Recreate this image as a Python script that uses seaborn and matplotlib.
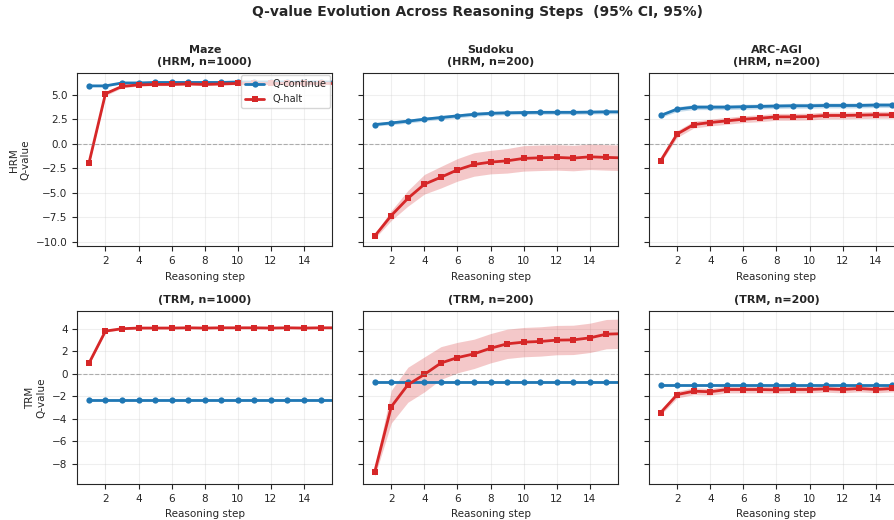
import numpy as np
import matplotlib
matplotlib.use("Agg")
import matplotlib.pyplot as plt
from matplotlib.ticker import MultipleLocator
import seaborn as sns

# reasoning steps
steps = np.arange(1, 17)

# HRM row: mean and CI half-width
maze_hrm_cont = [5.9, 5.9, 6.2, 6.2, 6.25, 6.25, 6.25, 6.25, 6.25, 6.3, 6.3, 6.3, 6.3, 6.3, 6.3, 6.3]
maze_hrm_cont_ci = [0.08] * 16
maze_hrm_halt = [-2.0, 5.1, 5.85, 6.0, 6.05, 6.05, 6.1, 6.05, 6.1, 6.15, 6.15, 6.15, 6.15, 6.15, 6.15, 6.15]
maze_hrm_halt_ci = [0.15, 0.2, 0.15, 0.12, 0.12, 0.12, 0.12, 0.12, 0.12, 0.12, 0.12, 0.12, 0.12, 0.12, 0.12, 0.12]

sudoku_hrm_cont = [1.95, 2.12, 2.3, 2.5, 2.67, 2.84, 3.0, 3.1, 3.15, 3.18, 3.2, 3.2, 3.2, 3.22, 3.25, 3.25]
sudoku_hrm_cont_ci = [0.15, 0.18, 0.2, 0.2, 0.2, 0.2, 0.2, 0.2, 0.2, 0.2, 0.2, 0.2, 0.2, 0.2, 0.2, 0.2]
sudoku_hrm_halt = [-9.42, -7.33, -5.58, -4.14, -3.42, -2.67, -2.12, -1.88, -1.75, -1.5, -1.44, -1.4, -1.47, -1.34, -1.4, -1.45]
sudoku_hrm_halt_ci = [0.25, 0.5, 0.8, 1.0, 1.1, 1.15, 1.2, 1.2, 1.25, 1.3, 1.3, 1.3, 1.3, 1.3, 1.3, 1.3]

arc_hrm_cont = [2.88, 3.53, 3.73, 3.73, 3.73, 3.77, 3.8, 3.84, 3.87, 3.87, 3.9, 3.9, 3.9, 3.94, 3.94, 3.94]
arc_hrm_cont_ci = [0.2, 0.25, 0.25, 0.25, 0.25, 0.25, 0.25, 0.25, 0.25, 0.25, 0.25, 0.25, 0.25, 0.25, 0.25, 0.25]
arc_hrm_halt = [-1.75, 0.99, 1.95, 2.16, 2.33, 2.5, 2.6, 2.74, 2.74, 2.77, 2.88, 2.88, 2.91, 2.95, 2.95, 2.95]
arc_hrm_halt_ci = [0.2, 0.35, 0.35, 0.35, 0.35, 0.35, 0.35, 0.35, 0.35, 0.35, 0.35, 0.35, 0.35, 0.35, 0.35, 0.35]

# TRM row
maze_trm_cont = [-2.32] * 16
maze_trm_cont_ci = [0.05] * 16
maze_trm_halt = [0.92, 3.78, 3.99, 4.05, 4.05, 4.05, 4.07, 4.05, 4.07, 4.07, 4.07, 4.05, 4.07, 4.05, 4.07, 4.07]
maze_trm_halt_ci = [0.12, 0.1, 0.08, 0.06, 0.06, 0.06, 0.06, 0.06, 0.06, 0.06, 0.06, 0.06, 0.06, 0.06, 0.06, 0.06]

sudoku_trm_cont = [-0.71] * 16
sudoku_trm_cont_ci = [0.05] * 16
sudoku_trm_halt = [-8.69, -2.92, -0.98, -0.06, 0.95, 1.43, 1.76, 2.26, 2.65, 2.8, 2.86, 2.98, 3.0, 3.18, 3.51, 3.55]
sudoku_trm_halt_ci = [0.4, 1.45, 1.55, 1.55, 1.45, 1.35, 1.3, 1.3, 1.3, 1.3, 1.3, 1.3, 1.3, 1.3, 1.3, 1.3]

arc_trm_cont = [-1.04] * 16
arc_trm_cont_ci = [0.05] * 16
arc_trm_halt = [-3.45, -1.85, -1.55, -1.6, -1.4, -1.4, -1.4, -1.43, -1.4, -1.4, -1.34, -1.4, -1.31, -1.4, -1.31, -1.3]
arc_trm_halt_ci = [0.2, 0.3, 0.3, 0.3, 0.3, 0.3, 0.3, 0.3, 0.3, 0.3, 0.3, 0.3, 0.3, 0.3, 0.3, 0.3]

datasets = ["Maze", "Sudoku", "ARC-AGI"]
sizes = [1000, 200, 200]
models = ["HRM", "TRM"]

panels = {
    ("HRM", 0): (maze_hrm_cont, maze_hrm_cont_ci, maze_hrm_halt, maze_hrm_halt_ci),
    ("HRM", 1): (sudoku_hrm_cont, sudoku_hrm_cont_ci, sudoku_hrm_halt, sudoku_hrm_halt_ci),
    ("HRM", 2): (arc_hrm_cont, arc_hrm_cont_ci, arc_hrm_halt, arc_hrm_halt_ci),
    ("TRM", 0): (maze_trm_cont, maze_trm_cont_ci, maze_trm_halt, maze_trm_halt_ci),
    ("TRM", 1): (sudoku_trm_cont, sudoku_trm_cont_ci, sudoku_trm_halt, sudoku_trm_halt_ci),
    ("TRM", 2): (arc_trm_cont, arc_trm_cont_ci, arc_trm_halt, arc_trm_halt_ci),
}

sns.set_style("ticks")
plt.rcParams['font.family'] = ['DejaVu Sans']
plt.rcParams['font.size'] = 7.5

blue = '#1f77b4'
red = '#d62728'

fig, axs = plt.subplots(2, 3, figsize=(8.94, 5.2), dpi=100, sharey='row')
fig.subplots_adjust(left=0.0865, right=1.011, top=0.859, bottom=0.069, wspace=0.122, hspace=0.375)

for i, model in enumerate(models):
    for j, name in enumerate(datasets):
        ax = axs[i, j]
        cont, cont_ci, halt, halt_ci = [np.array(a) for a in panels[(model, j)]]

        ax.fill_between(steps, cont - cont_ci, cont + cont_ci, color=blue, alpha=0.25, linewidth=0)
        ax.fill_between(steps, halt - halt_ci, halt + halt_ci, color=red, alpha=0.25, linewidth=0)
        sns.lineplot(x=steps, y=cont, ax=ax, color=blue, marker='o', markersize=4.5,
                     markeredgewidth=0, linewidth=2, label='Q-continue')
        sns.lineplot(x=steps, y=halt, ax=ax, color=red, marker='s', markersize=4.5,
                     markeredgewidth=0, linewidth=2, label='Q-halt')

        ax.axhline(0, color='gray', linestyle='--', linewidth=0.8, alpha=0.6)
        ax.set_xlim(0.3, 15.7)
        ax.xaxis.set_major_locator(MultipleLocator(2))
        ax.yaxis.set_major_locator(MultipleLocator(2.5 if model == "HRM" else 2))
        ax.grid(True, alpha=0.3)
        ax.set_xlabel('Reasoning step', fontsize=7.5)
        ax.tick_params(labelsize=7.5, length=3.5)

        if model == "HRM":
            ax.set_title(f'{name}\n(HRM, n={sizes[j]})', fontsize=8, fontweight='bold')
        else:
            ax.set_title(f'(TRM, n={sizes[j]})', fontsize=8, fontweight='bold')

        if j == 0:
            ax.set_ylabel(f'{model}\nQ-value', fontsize=7.5)
        else:
            ax.set_ylabel('')

        if i == 0 and j == 0:
            ax.legend(loc='upper right', fontsize=7, framealpha=0.8, borderaxespad=0.2)
        else:
            ax.get_legend().remove()

fig.suptitle('Q-value Evolution Across Reasoning Steps  (95% CI, 95%)',
             x=0.534, y=0.99, fontsize=10, fontweight='bold')

plt.savefig('out.png', dpi=100)
